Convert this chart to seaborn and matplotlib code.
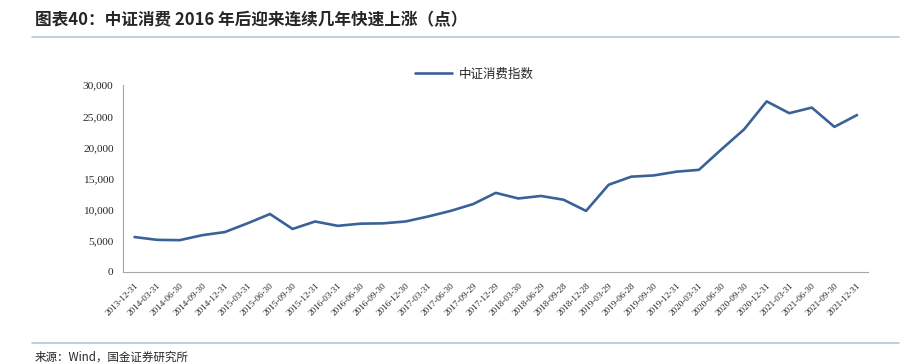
import matplotlib
matplotlib.use('Agg')
import matplotlib.pyplot as plt
import seaborn as sns
import pandas as pd
import numpy as np

# 季度日期
dates = ['2013-12-31', '2014-03-31', '2014-06-30', '2014-09-30', '2014-12-31',
         '2015-03-31', '2015-06-30', '2015-09-30', '2015-12-31', '2016-03-31',
         '2016-06-30', '2016-09-30', '2016-12-30', '2017-03-31', '2017-06-30',
         '2017-09-29', '2017-12-29', '2018-03-30', '2018-06-29', '2018-09-28',
         '2018-12-28', '2019-03-29', '2019-06-28', '2019-09-30', '2019-12-31',
         '2020-03-31', '2020-06-30', '2020-09-30', '2020-12-31', '2021-03-31',
         '2021-06-30', '2021-09-30', '2021-12-31']

# 中证消费指数（点）
index_values = [5600, 5150, 5100, 5900, 6400, 7800, 9300, 6900, 8100, 7400,
                7750, 7800, 8100, 8900, 9800, 10900, 12700, 11800, 12200, 11600,
                9800, 14000, 15300, 15500, 16100, 16400, 19700, 22900, 27400, 25500,
                26400, 23300, 25200]

series_name = '中证消费指数'
title = '图表40：中证消费 2016 年后迎来连续几年快速上涨（点）'
source = '来源：Wind，国金证券研究所'

sns.set_style('white')
plt.rcParams['font.family'] = ['Noto Sans CJK SC', 'DejaVu Sans']

df = pd.DataFrame({'pos': np.arange(len(dates)), 'value': index_values})

fig = plt.figure(figsize=(9.13, 3.64), dpi=100)
ax = fig.add_axes([0.135, 0.253, 0.816, 0.513])

sns.lineplot(data=df, x='pos', y='value', ax=ax, color='#3A6298', linewidth=1.9,
             label=series_name)

ax.set_xlim(-0.5, len(dates) - 0.5)
ax.set_ylim(0, 30000)
ax.set_yticks(range(0, 30001, 5000))
ax.set_yticklabels([f'{v:,}' for v in range(0, 30001, 5000)],
                   family='Liberation Serif', fontsize=8.2)
ax.set_xticks(np.arange(len(dates)))
ax.set_xticklabels(dates, rotation=45, ha='right', rotation_mode='anchor',
                   family='Liberation Serif', fontsize=6.6)
ax.set_xticks(np.arange(-0.5, len(dates)), minor=True)
ax.tick_params(axis='x', which='major', length=0, pad=7)
ax.tick_params(axis='x', which='minor', length=3, color='#A6A6A6', width=0.8)
ax.tick_params(axis='y', length=3, color='#A6A6A6', width=0.8, pad=4)
ax.set_xlabel('')
ax.set_ylabel('')

for s in ['top', 'right']:
    ax.spines[s].set_visible(False)
for s in ['left', 'bottom']:
    ax.spines[s].set_color('#A6A6A6')
    ax.spines[s].set_linewidth(0.8)

leg = ax.legend(loc='center', bbox_to_anchor=(0.471, 1.06), frameon=False,
                fontsize=9, handlelength=3.0, handletextpad=0.5)

fig.text(0.038, 0.945, title, fontsize=12, fontweight='bold', fontstyle='italic',
         va='center', ha='left')
fig.add_artist(plt.Line2D([0.035, 0.985], [0.898, 0.898], color='#B4C7DC', linewidth=1.2))
fig.add_artist(plt.Line2D([0.035, 0.985], [0.058, 0.058], color='#B4C7DC', linewidth=1.2))
fig.text(0.038, 0.018, source, fontsize=8.3, va='center', ha='left')

fig.savefig('out.png', dpi=100)
